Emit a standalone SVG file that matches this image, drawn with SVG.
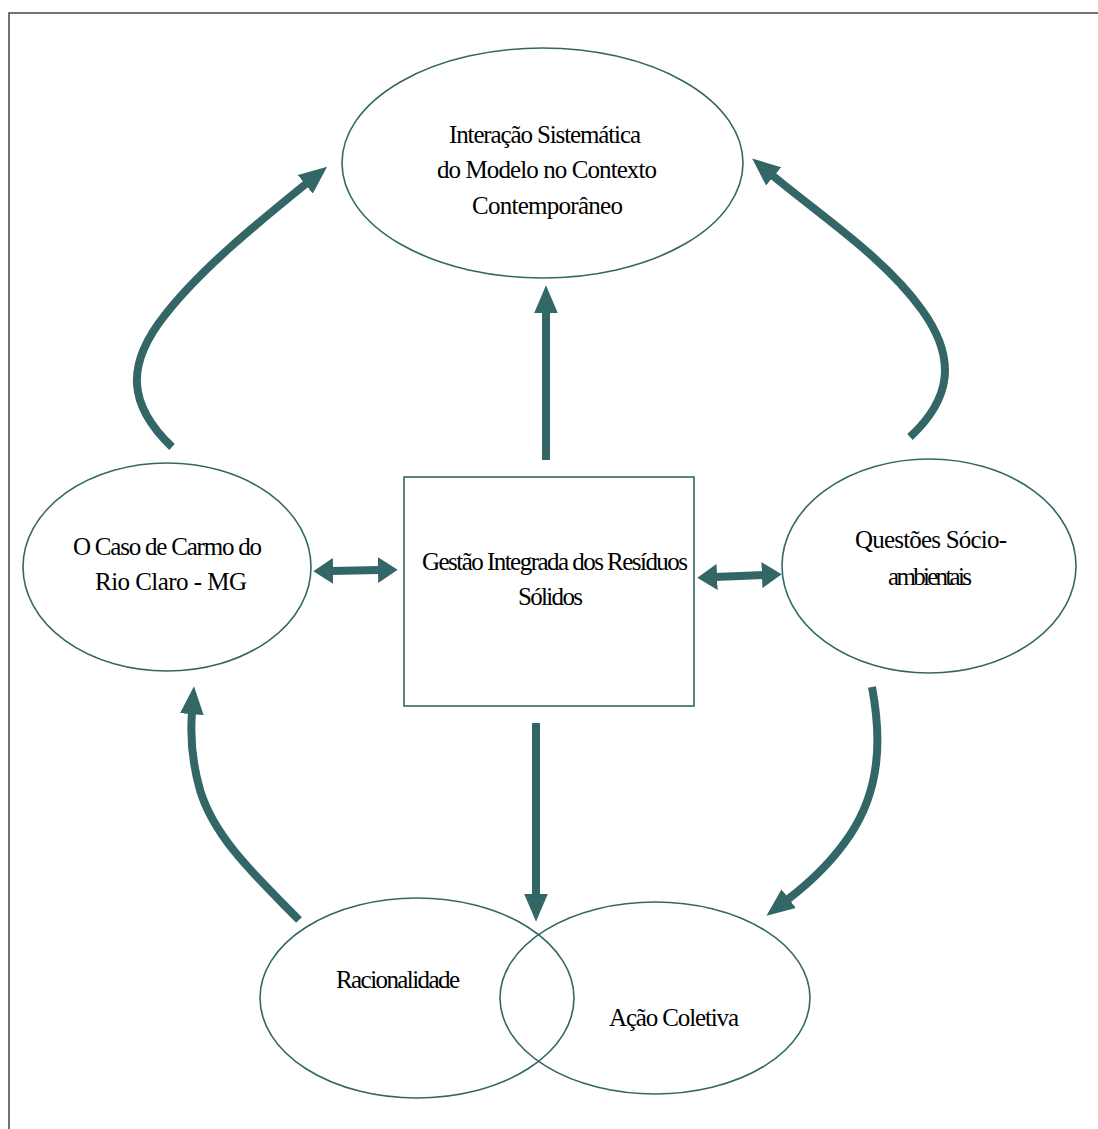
<svg xmlns="http://www.w3.org/2000/svg" width="1098" height="1129" viewBox="0 0 1098 1129">
<style>
.n{fill:#ffffff;stroke:#336666;stroke-width:1.6}
.t{font-family:'Liberation Serif','Times New Roman','DejaVu Serif',serif;font-size:25px;fill:#000;text-anchor:start}
.c{fill:none;stroke:#336666;stroke-width:8}
</style>
<defs>
<marker id="h" markerUnits="userSpaceOnUse" markerWidth="28" markerHeight="24" viewBox="0 0 26 22" refX="2" refY="11" orient="auto">
<path d="M0,0 L26,11 L0,22 z" fill="#336666"/>
</marker>
<marker id="d" markerUnits="userSpaceOnUse" markerWidth="20" markerHeight="26" viewBox="0 0 19 25" refX="2" refY="12.5" orient="auto-start-reverse">
<path d="M0,0 L19,12.5 L0,25 z" fill="#336666"/>
</marker>
</defs>
<rect x="9" y="13" width="1100" height="1130" fill="#ffffff" stroke="#444444" stroke-width="1.5"/>

<g id="connectors">
<path class="c" d="M172,447 C128,405 125,365 165,315 C200,270 255,225 307,183" marker-end="url(#h)"/>
<path class="c" d="M910,437 C950,400 958,360 922,310 C885,258 820,215 772,175" marker-end="url(#h)"/>
<path class="c" d="M546,460 L546,311" marker-end="url(#h)"/>
<path class="c" d="M536,723 L536,896" marker-end="url(#h)"/>
<path class="c" d="M331,571 L380,570" marker-start="url(#d)" marker-end="url(#d)"/>
<path class="c" d="M715,577 L764,575" marker-start="url(#d)" marker-end="url(#d)"/>
<path class="c" d="M872,687 C882,740 880,790 850,835 C832,862 808,884 787,900" marker-end="url(#h)"/>
<path class="c" d="M299,920 C260,880 215,840 200,790 C192,762 190,738 192,712" marker-end="url(#h)"/>
</g>

<g id="node-top">
<ellipse class="n" cx="542.5" cy="163" rx="200.5" ry="115"/>
<text class="t" font-family="Liberation Serif, serif" x="449" y="143" textLength="192" lengthAdjust="spacing">Interação Sistemática</text>
<text class="t" font-family="Liberation Serif, serif" x="437" y="178" textLength="220" lengthAdjust="spacing">do Modelo no Contexto</text>
<text class="t" font-family="Liberation Serif, serif" x="472" y="214" textLength="151" lengthAdjust="spacing">Contemporâneo</text>
</g>

<g id="node-center">
<rect class="n" x="404" y="477" width="290" height="229"/>
<text class="t" x="422" y="570" textLength="266" lengthAdjust="spacing">Gestão  Integrada dos Resíduos</text>
<text class="t" x="518" y="605" textLength="65" lengthAdjust="spacing">Sólidos</text>
</g>

<g id="node-left">
<ellipse class="n" cx="167" cy="567" rx="144" ry="104"/>
<text class="t" x="73" y="555" textLength="189" lengthAdjust="spacing">O Caso de  Carmo do</text>
<text class="t" x="95" y="590" textLength="152" lengthAdjust="spacing">Rio  Claro - MG</text>
</g>

<g id="node-right">
<ellipse class="n" cx="929" cy="566" rx="147" ry="107"/>
<text class="t" x="855" y="548" textLength="152" lengthAdjust="spacing">Questões Sócio-</text>
<text class="t" x="888" y="585" textLength="84" lengthAdjust="spacing">ambientais</text>
</g>

<g id="node-racionalidade">
<ellipse class="n" cx="417" cy="998" rx="157" ry="100" style="fill:none"/>
<text class="t" x="336" y="988" textLength="124" lengthAdjust="spacing">Racionalidade</text>
</g>

<g id="node-acao">
<ellipse class="n" cx="655" cy="998" rx="155" ry="96" style="fill:none"/>
<text class="t" x="609" y="1026" textLength="130" lengthAdjust="spacing">Ação Coletiva</text>
</g>
</svg>
